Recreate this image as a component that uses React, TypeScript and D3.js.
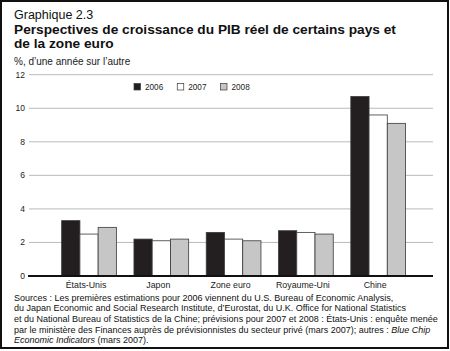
import React, { useEffect, useRef } from 'react';
import * as d3 from 'd3';

const countries = ['États-Unis', 'Japon', 'Zone euro', 'Royaume-Uni', 'Chine'];
const years = ['2006', '2007', '2008'];
const growth2006 = [3.3, 2.2, 2.6, 2.7, 10.7];
const growth2007 = [2.5, 2.1, 2.2, 2.6, 9.6];
const growth2008 = [2.9, 2.2, 2.1, 2.5, 9.1];
const yTicks = [0, 2, 4, 6, 8, 10, 12];

const sourceLines: { text: string; italic?: boolean }[][] = [
  [{ text: 'Sources : Les premières estimations pour 2006 viennent du U.S. Bureau of Economic Analysis,' }],
  [{ text: 'du Japan Economic and Social Research Institute, d’Eurostat, du U.K. Office for National Statistics' }],
  [{ text: 'et du National Bureau of Statistics de la Chine; prévisions pour 2007 et 2008 : États-Unis : enquête menée' }],
  [
    { text: 'par le ministère des Finances auprès de prévisionnistes du secteur privé (mars 2007); autres : ' },
    { text: 'Blue Chip', italic: true },
  ],
  [{ text: 'Economic Indicators', italic: true }, { text: ' (mars 2007).' }],
];

const fills: Record<string, string> = { '2006': '#231f20', '2007': '#ffffff', '2008': '#c6c6c6' };

export default function App() {
  const ref = useRef<SVGSVGElement | null>(null);

  useEffect(() => {
    if (!ref.current) return;
    const width = 450;
    const height = 351;
    const svg = d3.select(ref.current);
    svg.selectAll('*').remove();
    svg.attr('viewBox', `0 0 ${width} ${height}`);

    const font = '"Liberation Sans", Arial, Helvetica, sans-serif';
    const g = svg.append('g').style('font-family', font);

    g.append('rect')
      .attr('x', 0).attr('y', 0).attr('width', width).attr('height', height)
      .attr('fill', '#fff');

    // header
    g.append('text').attr('x', 14).attr('y', 19).attr('font-size', 12.5).attr('fill', '#111')
      .text('Graphique 2.3');
    const title = ['Perspectives de croissance du PIB réel de certains pays et', 'de la zone euro'];
    title.forEach((t, i) => {
      g.append('text').attr('x', 14).attr('y', 34 + i * 14).attr('font-size', 13.7)
        .attr('font-weight', 'bold').attr('fill', '#111').text(t);
    });
    g.append('text').attr('x', 14).attr('y', 65).attr('font-size', 10).attr('fill', '#222')
      .text('%, d’une année sur l’autre');

    const left = 29;
    const right = 433;
    const y = d3.scaleLinear().domain([0, 12]).range([276, 74.7]);
    const x0 = d3.scaleBand().domain(countries).range([44.1, 423.1]).padding(0.243);
    const x1 = d3.scaleBand().domain(years).range([0, x0.bandwidth()]);

    // grid
    g.selectAll('.grid')
      .data(yTicks.filter(d => d !== 0))
      .join('line')
      .attr('x1', left).attr('x2', right)
      .attr('y1', d => y(d)).attr('y2', d => y(d))
      .attr('stroke', '#a8a8a8').attr('stroke-width', 0.8);

    g.selectAll('.tick-label')
      .data(yTicks)
      .join('text')
      .attr('x', 25).attr('y', d => y(d) + 3)
      .attr('text-anchor', 'end').attr('font-size', 8.5).attr('fill', '#222')
      .text(d => String(d));

    // bars
    const rows = countries.map((c, i) => ({
      country: c,
      values: [
        { year: '2006', value: growth2006[i] },
        { year: '2007', value: growth2007[i] },
        { year: '2008', value: growth2008[i] },
      ],
    }));

    const groups = g.selectAll('.group').data(rows).join('g')
      .attr('transform', d => `translate(${x0(d.country)},0)`);
    groups.selectAll('rect').data(d => d.values).join('rect')
      .attr('x', d => x1(d.year)!)
      .attr('y', d => y(d.value))
      .attr('width', x1.bandwidth())
      .attr('height', d => y(0) - y(d.value))
      .attr('fill', d => fills[d.year])
      .attr('stroke', '#3a3a3a').attr('stroke-width', 0.8);

    // zero line
    g.append('line').attr('x1', left - 1).attr('x2', right)
      .attr('y1', y(0)).attr('y2', y(0)).attr('stroke', '#111').attr('stroke-width', 1.8);

    g.selectAll('.cat').data(countries).join('text')
      .attr('x', d => x0(d)! + x0.bandwidth() / 2 - 3)
      .attr('y', 287.5).attr('text-anchor', 'middle').attr('font-size', 8.8).attr('fill', '#222')
      .text(d => d);

    // legend
    const legendX = d3.scalePoint().domain(years).range([134, 220.5]);
    const lg = g.selectAll('.legend').data(years).join('g')
      .attr('transform', d => `translate(${legendX(d)},83.5)`);
    lg.append('rect').attr('width', 6.5).attr('height', 6.5)
      .attr('fill', d => fills[d]).attr('stroke', '#3a3a3a').attr('stroke-width', 0.7);
    lg.append('text').attr('x', 11).attr('y', 6.5).attr('font-size', 8.2).attr('fill', '#222')
      .text(d => d);

    // sources
    sourceLines.forEach((parts, i) => {
      const t = g.append('text').attr('x', 14).attr('y', 300.5 + i * 10.7)
        .attr('font-size', 9).attr('fill', '#111');
      parts.forEach(p => {
        t.append('tspan').attr('font-style', p.italic ? 'italic' : 'normal').text(p.text);
      });
    });

    // frame
    g.append('rect').attr('x', 1).attr('y', 1).attr('width', 447).attr('height', 347)
      .attr('fill', 'none').attr('stroke', '#111').attr('stroke-width', 2);
  }, []);

  return (
    <svg
      ref={ref}
      width={450}
      height={351}
      style={{ position: 'absolute', left: 0, top: 0, display: 'block' }}
    />
  );
}
